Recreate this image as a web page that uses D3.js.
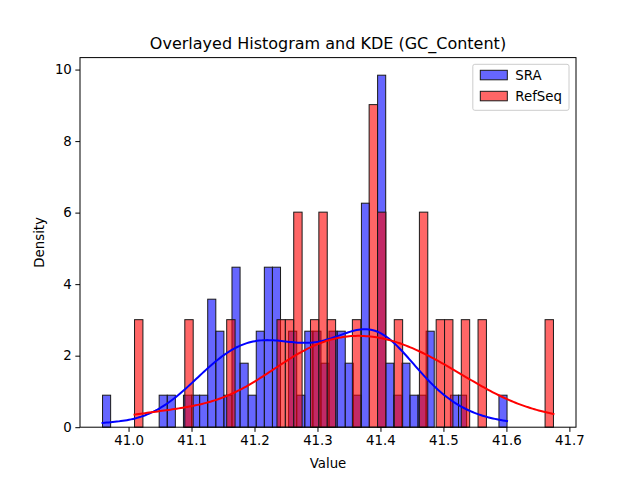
<!DOCTYPE html>
<html>
<head>
<meta charset="utf-8">
<script src="https://cdn.jsdelivr.net/npm/d3@7"></script>
<style>
  body { margin: 0; background: #fff; }
  text { font-family: "DejaVu Sans", sans-serif; }
</style>
</head>
<body>
<div id="chart"></div>
<script>
// data range (min, max) of each sample and counts per bin (50 bins each)
const sraRange = [40.9587, 41.6010];
const sraCounts = [
  1, 0, 0, 0, 0, 0, 0, 1, 1, 0,
  1, 1, 1, 4, 3, 1, 5, 2, 1, 3,
  5, 5, 0, 3, 1, 3, 3, 2, 3, 3,
  2, 1, 7, 0, 11, 2, 1, 2, 1, 1,
  3, 0, 0, 1, 1, 0, 0, 0, 0, 1
];
const refseqRange = [41.0095, 41.6747];
const refseqCounts = [
  1, 0, 0, 0, 0, 0, 1, 0, 0, 0,
  0, 1, 0, 0, 0, 0, 0, 1, 1, 2,
  0, 1, 2, 1, 0, 0, 1, 0, 3, 2,
  0, 1, 0, 0, 2, 0, 1, 1, 0, 1,
  0, 1, 0, 0, 0, 0, 0, 0, 0, 1
];
const seriesNames = ["SRA", "RefSeq"];
const xTicks = [41.0, 41.1, 41.2, 41.3, 41.4, 41.5, 41.6, 41.7];
const yTicks = [0, 2, 4, 6, 8, 10];

const W = 640, H = 480;
const margin = { left: 80, right: 64, top: 57.6, bottom: 52.8 };
const fs = 13.33;

const series = [
  { name: seriesNames[0], range: sraRange, counts: sraCounts, face: "rgba(0,0,255,0.6)", line: "#0000ff" },
  { name: seriesNames[1], range: refseqRange, counts: refseqCounts, face: "rgba(255,0,0,0.6)", line: "#ff0000" }
];

// bins, densities and samples (bin centres, extremes at the range ends)
series.forEach((s) => {
  const nb = s.counts.length;
  const bw = (s.range[1] - s.range[0]) / nb;
  const n = d3.sum(s.counts);
  s.bins = s.counts.map((c, i) => ({
    x0: s.range[0] + i * bw,
    x1: s.range[0] + (i + 1) * bw,
    y: c / (n * bw)
  }));
  s.samples = [];
  s.counts.forEach((c, i) => {
    let v = s.range[0] + (i + 0.5) * bw;
    if (i === 0) v = s.range[0];
    if (i === nb - 1) v = s.range[1];
    for (let k = 0; k < c; k++) s.samples.push(v);
  });
  // gaussian kde, scott bandwidth, cut = 0
  const sd = d3.deviation(s.samples);
  const h = sd * Math.pow(s.samples.length, -0.2);
  const grid = d3.range(200).map((i) => s.range[0] + (i / 199) * (s.range[1] - s.range[0]));
  s.kde = grid.map((x) => ({
    x: x,
    y: d3.sum(s.samples, (xi) => Math.exp(-0.5 * ((x - xi) / h) ** 2)) /
      (s.samples.length * h * Math.sqrt(2 * Math.PI))
  }));
});

const xMin = d3.min(series, (s) => s.range[0]);
const xMax = d3.max(series, (s) => s.range[1]);
const pad = (xMax - xMin) * 0.05;
const yMax = d3.max(series, (s) => d3.max(s.bins, (b) => b.y)) * 1.05;

const x = d3.scaleLinear().domain([xMin - pad, xMax + pad]).range([margin.left, W - margin.right]);
const y = d3.scaleLinear().domain([0, yMax]).range([H - margin.bottom, margin.top]);

const svg = d3.select("#chart").append("svg").attr("width", W).attr("height", H);

// bars
series.forEach((s) => {
  svg.append("g")
    .selectAll("rect")
    .data(s.bins.filter((b) => b.y > 0))
    .join("rect")
    .attr("x", (b) => x(b.x0))
    .attr("width", (b) => x(b.x1) - x(b.x0))
    .attr("y", (b) => y(b.y))
    .attr("height", (b) => y(0) - y(b.y))
    .attr("fill", s.face)
    .attr("stroke", "#1a1a1a")
    .attr("stroke-width", 1);
});

// kde lines
const line = d3.line().x((d) => x(d.x)).y((d) => y(d.y));
series.forEach((s) => {
  svg.append("path")
    .attr("d", line(s.kde))
    .attr("fill", "none")
    .attr("stroke", s.line)
    .attr("stroke-width", 2)
    .attr("stroke-linecap", "square");
});

// axes
const xAxis = svg.append("g")
  .attr("transform", `translate(0, ${H - margin.bottom})`)
  .call(d3.axisBottom(x).tickValues(xTicks).tickFormat(d3.format(".1f")).tickSize(4.67).tickPadding(3.5).tickSizeOuter(0));
const yAxis = svg.append("g")
  .attr("transform", `translate(${margin.left}, 0)`)
  .call(d3.axisLeft(y).tickValues(yTicks).tickSize(4.67).tickPadding(3.5).tickSizeOuter(0));
[xAxis, yAxis].forEach((a) => {
  a.select(".domain").remove();
  a.selectAll("text").attr("font-size", fs).attr("font-family", "DejaVu Sans").attr("fill", "#000");
  a.selectAll("line").attr("stroke", "#000").attr("stroke-width", 1);
});

// frame
svg.append("rect")
  .attr("x", margin.left)
  .attr("y", margin.top)
  .attr("width", W - margin.left - margin.right)
  .attr("height", H - margin.top - margin.bottom)
  .attr("fill", "none")
  .attr("stroke", "#000")
  .attr("stroke-width", 1);

// labels
svg.append("text")
  .attr("x", (margin.left + W - margin.right) / 2)
  .attr("y", margin.top - 9)
  .attr("text-anchor", "middle")
  .attr("font-size", 16)
  .text("Overlayed Histogram and KDE (GC_Content)");
svg.append("text")
  .attr("x", (margin.left + W - margin.right) / 2)
  .attr("y", 468)
  .attr("text-anchor", "middle")
  .attr("font-size", fs)
  .text("Value");
svg.append("text")
  .attr("transform", `translate(44, ${(margin.top + H - margin.bottom) / 2}) rotate(-90)`)
  .attr("text-anchor", "middle")
  .attr("font-size", fs)
  .text("Density");

// legend
const legend = svg.append("g");
const box = legend.append("rect")
  .attr("fill", "rgba(255,255,255,0.8)")
  .attr("stroke", "#cccccc")
  .attr("stroke-width", 1)
  .attr("rx", 2);
const items = legend.selectAll("g.item")
  .data(series)
  .join("g")
  .attr("class", "item");
items.append("rect")
  .attr("x", 0)
  .attr("y", (d, i) => i * 21)
  .attr("width", 27)
  .attr("height", 9.5)
  .attr("fill", (d) => d.face)
  .attr("stroke", "#1a1a1a")
  .attr("stroke-width", 1);
items.append("text")
  .attr("x", 35)
  .attr("y", (d, i) => i * 21 + 9.5)
  .attr("font-size", fs)
  .text((d) => d.name);
let tw = 0;
items.selectAll("text").each(function () { tw = Math.max(tw, this.getComputedTextLength()); });
const lw = 7.5 + 35 + tw + 7;
const lh = 46;
const lx = W - margin.right - 7 - lw;
const ly = margin.top + 6.7;
box.attr("x", lx).attr("y", ly).attr("width", lw).attr("height", lh);
items.attr("transform", `translate(${lx + 7.5}, ${ly + 6})`);
</script>
</body>
</html>
